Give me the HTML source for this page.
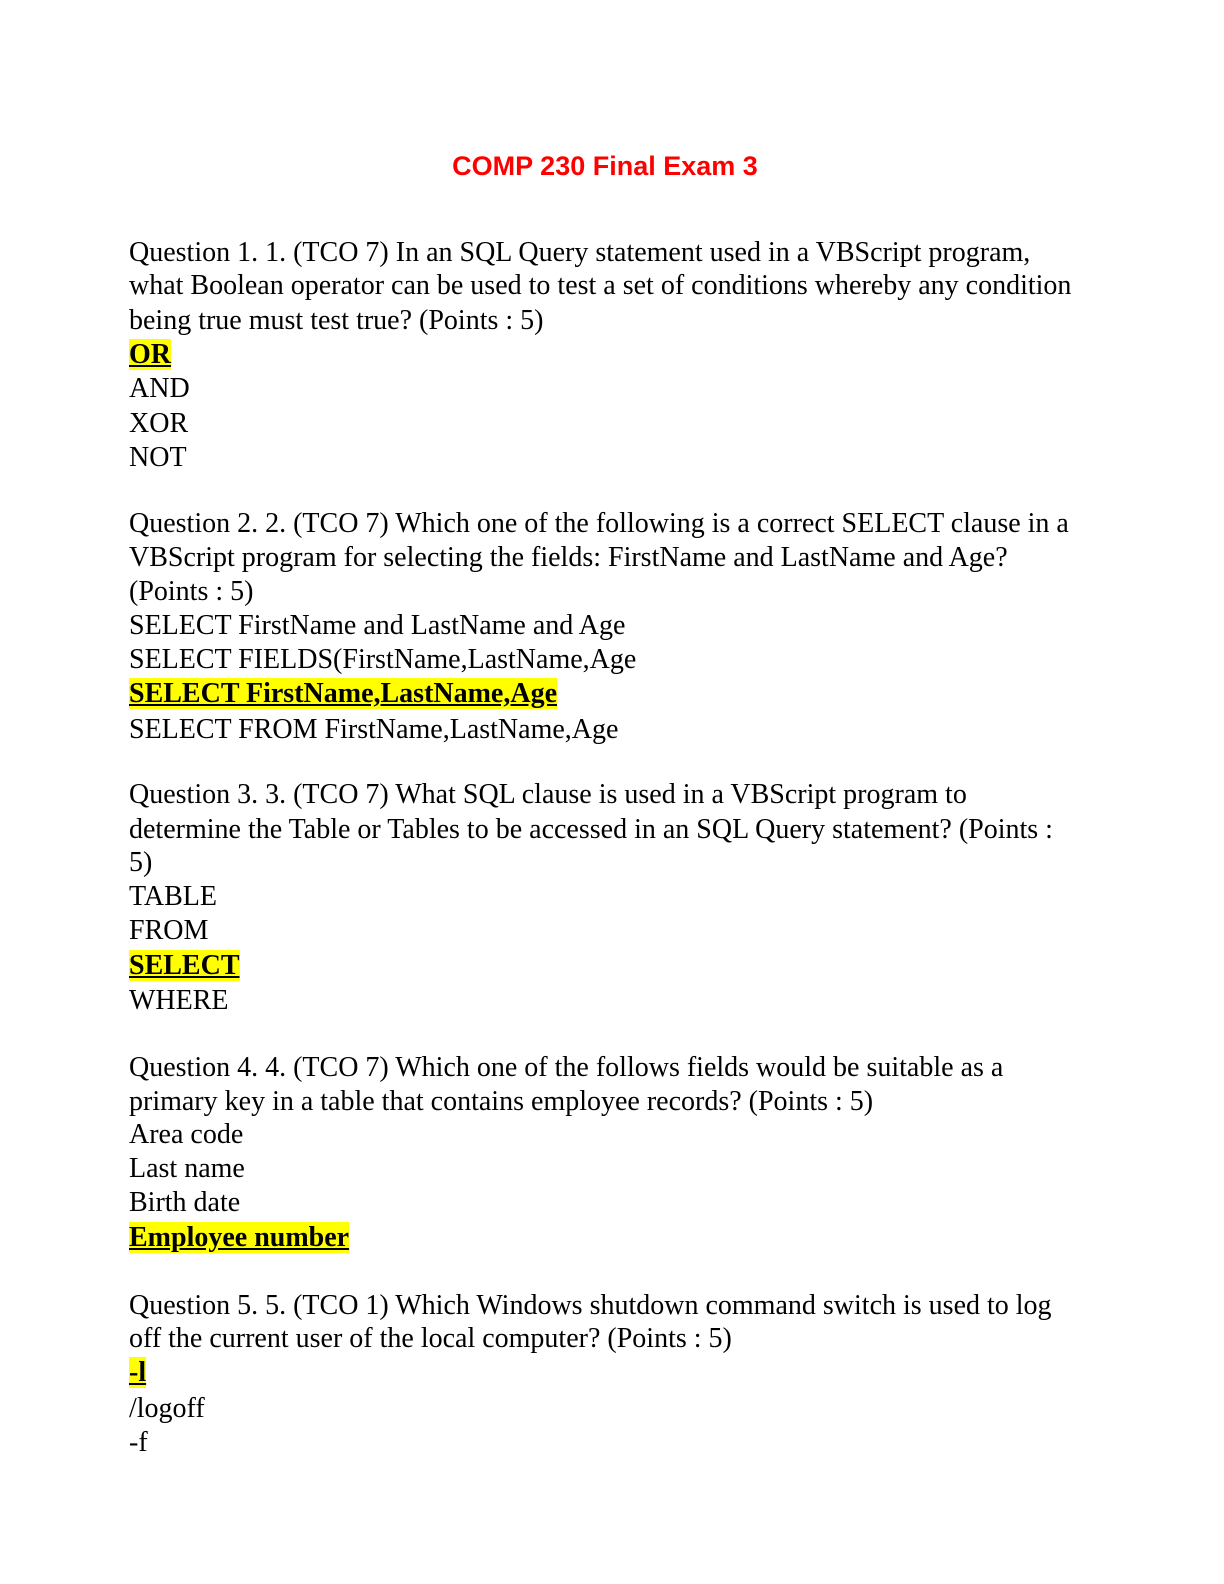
<!DOCTYPE html>
<html><head><meta charset="utf-8"><style>
body{margin:0;background:#fff;}
.pg{position:relative;width:1224px;height:1584px;overflow:hidden;}
.l{position:absolute;left:129px;font-family:"Liberation Serif",serif;font-size:28px;line-height:34px;white-space:nowrap;color:#000;}
.h{background:#ffff00;font-weight:bold;text-decoration:underline;}
.t{position:absolute;left:0;width:1210px;text-align:center;top:151px;font-family:"Liberation Sans",sans-serif;font-weight:bold;font-size:27px;color:#ff0000;}
</style></head><body><div class="pg">
<div class="t">COMP 230 Final Exam 3</div>
<div class="l" style="top:236px">Question 1. 1. (TCO 7) In an SQL Query statement used in a VBScript program,</div>
<div class="l" style="top:269px">what Boolean operator can be used to test a set of conditions whereby any condition</div>
<div class="l" style="top:304px">being true must test true? (Points : 5)</div>
<div class="l" style="top:338px"><span class="h">OR</span></div>
<div class="l" style="top:372px">AND</div>
<div class="l" style="top:407px">XOR</div>
<div class="l" style="top:441px">NOT</div>
<div class="l" style="top:507px">Question 2. 2. (TCO 7) Which one of the following is a correct SELECT clause in a</div>
<div class="l" style="top:541px">VBScript program for selecting the fields: FirstName and LastName and Age?</div>
<div class="l" style="top:575px">(Points : 5)</div>
<div class="l" style="top:609px">SELECT FirstName and LastName and Age</div>
<div class="l" style="top:643px">SELECT FIELDS(FirstName,LastName,Age</div>
<div class="l" style="top:677px"><span class="h">SELECT FirstName,LastName,Age</span></div>
<div class="l" style="top:713px">SELECT FROM FirstName,LastName,Age</div>
<div class="l" style="top:778px">Question 3. 3. (TCO 7) What SQL clause is used in a VBScript program to</div>
<div class="l" style="top:813px">determine the Table or Tables to be accessed in an SQL Query statement? (Points :</div>
<div class="l" style="top:846px">5)</div>
<div class="l" style="top:880px">TABLE</div>
<div class="l" style="top:914px">FROM</div>
<div class="l" style="top:949px"><span class="h">SELECT</span></div>
<div class="l" style="top:984px">WHERE</div>
<div class="l" style="top:1051px">Question 4. 4. (TCO 7) Which one of the follows fields would be suitable as a</div>
<div class="l" style="top:1085px">primary key in a table that contains employee records? (Points : 5)</div>
<div class="l" style="top:1118px">Area code</div>
<div class="l" style="top:1152px">Last name</div>
<div class="l" style="top:1186px">Birth date</div>
<div class="l" style="top:1221px"><span class="h">Employee number</span></div>
<div class="l" style="top:1289px">Question 5. 5. (TCO 1) Which Windows shutdown command switch is used to log</div>
<div class="l" style="top:1322px">off the current user of the local computer? (Points : 5)</div>
<div class="l" style="top:1356px"><span class="h">-l</span></div>
<div class="l" style="top:1392px">/logoff</div>
<div class="l" style="top:1426px">-f</div>
</div></body></html>
